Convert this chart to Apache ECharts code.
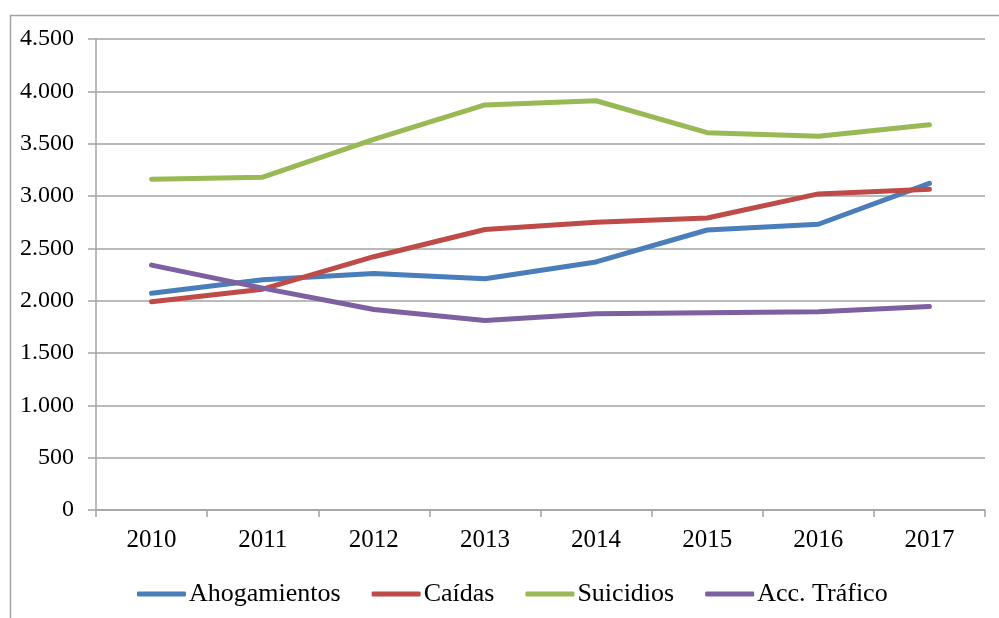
<!DOCTYPE html>
<html>
<head>
<meta charset="utf-8">
<script src="https://cdn.jsdelivr.net/npm/echarts@6/dist/echarts.min.js"></script>
<style>
  html, body { margin: 0; padding: 0; background: #fff; }
  #chart { width: 999px; height: 618px; }
</style>
</head>
<body>
<div id="chart"></div>
<script>
var years = ['2010', '2011', '2012', '2013', '2014', '2015', '2016', '2017'];
var ahogamientos = [2070, 2200, 2260, 2210, 2370, 2675, 2730, 3120];
var caidas = [1990, 2110, 2420, 2680, 2750, 2790, 3020, 3065];
var suicidios = [3160, 3180, 3540, 3870, 3910, 3605, 3570, 3680];
var trafico = [2340, 2120, 1915, 1810, 1875, 1885, 1895, 1945];

var colors = ['#4a7ebb', '#be4b48', '#98b954', '#7d60a0'];
var font = '"Liberation Serif", "Times New Roman", serif';
var grey = '#a3a3a3';

function mkSeries(name, data, color) {
  return {
    name: name,
    type: 'line',
    data: data,
    symbol: 'none',
    smooth: false,
    lineStyle: { width: 5, color: color, cap: 'round', join: 'round' },
    itemStyle: { color: color }
  };
}

var chart = echarts.init(document.getElementById('chart'), null, { renderer: 'canvas' });
chart.setOption({
  animation: false,
  backgroundColor: '#fff',
  graphic: [{
    type: 'rect',
    left: 8, top: 13,
    shape: { width: 1100, height: 700 },
    style: { fill: 'none', stroke: grey, lineWidth: 1.5 },
    z: -1
  }],
  grid: { left: 96, right: 14, top: 39, bottom: 108, containLabel: false },
  legend: {
    left: 132,
    top: 576,
    itemWidth: 49,
    itemHeight: 5,
    itemGap: 31,
    icon: 'roundRect',
    textStyle: { fontFamily: font, fontSize: 26, color: '#000', padding: [0, 0, 0, -2] },
    data: ['Ahogamientos', 'Caídas', 'Suicidios', 'Acc. Tráfico']
  },
  xAxis: {
    type: 'category',
    data: years,
    boundaryGap: true,
    axisLine: { lineStyle: { color: grey, width: 1.5 } },
    axisTick: { show: true, length: 7, lineStyle: { color: grey, width: 1.5 } },
    axisLabel: { fontFamily: font, fontSize: 25, color: '#000', margin: 18 }
  },
  yAxis: {
    type: 'value',
    min: 0,
    max: 4500,
    interval: 500,
    axisLine: { show: true, lineStyle: { color: grey, width: 1.5 } },
    axisTick: { show: true, length: 8, lineStyle: { color: grey, width: 1.5 } },
    splitLine: { lineStyle: { color: grey, width: 1.5 } },
    axisLabel: {
      fontFamily: font, fontSize: 24, color: '#000', margin: 22,
      formatter: function (v) { return v.toLocaleString('de-DE'); }
    }
  },
  series: [
    mkSeries('Ahogamientos', ahogamientos, colors[0]),
    mkSeries('Caídas', caidas, colors[1]),
    mkSeries('Suicidios', suicidios, colors[2]),
    mkSeries('Acc. Tráfico', trafico, colors[3])
  ]
});
</script>
</body>
</html>
